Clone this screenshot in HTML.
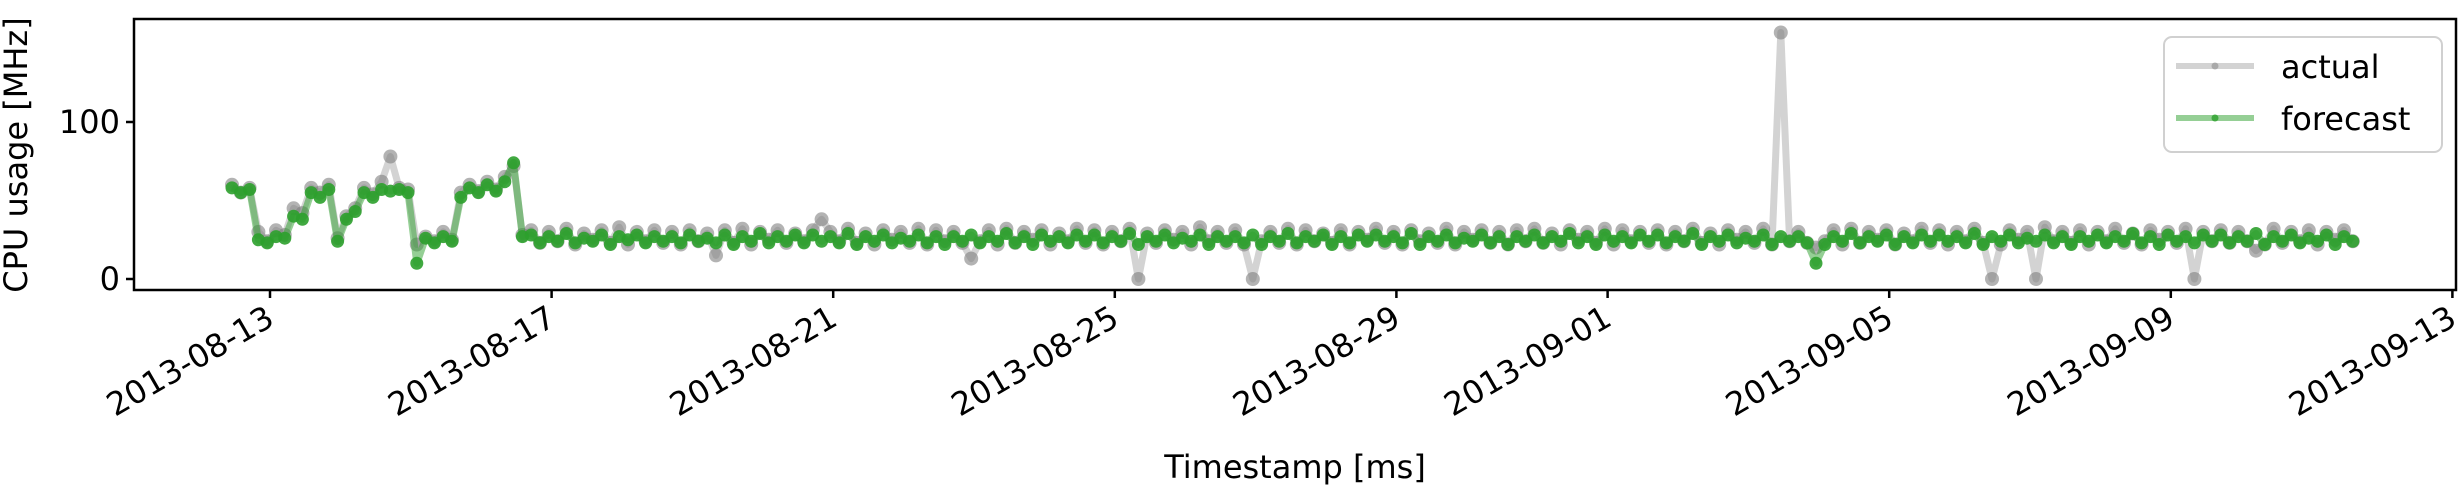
<!DOCTYPE html>
<html><head><meta charset="utf-8"><style>
html,body{margin:0;padding:0;background:#fff;}
svg{display:block;font-family:"DejaVu Sans","Liberation Sans",sans-serif;}
</style></head><body>
<svg id="chart" width="2458" height="490" viewBox="0 0 2458 490" xmlns="http://www.w3.org/2000/svg">
<rect width="2458" height="490" fill="#fff"/>
<g id="series"></g>
<g id="axes"></g>
<text x="0" y="0" font-size="32" text-anchor="middle" transform="translate(27,155) rotate(-90)">CPU usage [MHz]</text>
<text x="1295" y="478" font-size="32" text-anchor="middle">Timestamp [ms]</text>
<g>
<rect x="2164" y="37" width="278" height="115" rx="8" fill="#fff" fill-opacity="0.8" stroke="#d0d0d0" stroke-width="2"/>
<g>
<line x1="2176" y1="66" x2="2254" y2="66" stroke="#808080" stroke-opacity="0.35" stroke-width="6"/>
<circle cx="2215" cy="66" r="3.5" fill="#808080" fill-opacity="0.5"/>
<text x="2281" y="78" font-size="32">actual</text></g>
<g>
<line x1="2176" y1="118" x2="2254" y2="118" stroke="#2ca02c" stroke-opacity="0.5" stroke-width="6"/>
<circle cx="2215" cy="118" r="3.5" fill="#2ca02c" fill-opacity="0.8"/>
<text x="2281" y="130" font-size="32">forecast</text></g>
</g>
</svg>
<script>
// time: day-of-August (Sep d = 31+d), sample i at startDay + i*stepDay
const startDay = 12.46;
const stepDay = 0.125;
const actualValues = [60,55,58,30,24,31,28,45,42,58,55,60,26,40,45,58,54,62,78,58,57,22,27,24,30,25,55,60,56,62,57,65,72,28,
31,23,30,24,32,22,29,25,31,23,33,22,30,24,31,23,
30,22,31,24,29,15,31,23,32,22,30,25,31,23,29,24,
31,38,30,24,32,23,29,22,31,25,30,23,32,22,31,24,
30,23,13,24,31,22,32,23,30,25,31,22,29,24,32,23,
31,22,30,24,32,0,29,23,31,25,30,22,33,24,30,23,
31,22,0,24,30,23,32,22,31,24,29,23,31,22,30,25,
32,23,30,22,31,24,29,23,32,22,30,25,31,23,30,22,
31,24,32,23,29,22,31,25,30,23,32,22,31,24,30,23,
31,22,30,24,32,23,29,22,31,25,30,23,32,22,157,24,
30,23,20,24,31,22,32,23,30,25,31,22,29,24,32,23,
31,22,30,24,32,23,0,22,31,25,30,0,33,24,30,23,
31,22,30,24,32,23,29,22,31,25,30,23,32,0,30,24,
31,23,30,24,18,22,32,23,30,24,31,22,30,25,31,24];
const forecastValues = [58,55,57,25,23,27,26,40,38,55,52,57,24,38,43,55,52,57,56,57,55,10,26,23,27,24,52,58,55,60,56,62,74,27,
28,23,27,24,29,23,26,24,28,22,27,25,28,23,27,24,
27,23,28,24,26,23,28,22,27,24,29,23,27,24,28,23,
28,24,27,23,29,22,27,24,28,23,26,24,28,23,27,22,
27,24,28,23,27,24,29,23,27,22,28,24,27,23,28,24,
28,23,27,24,29,22,27,24,28,23,26,24,28,22,27,24,
27,23,28,22,27,24,29,23,27,24,28,22,27,23,28,24,
28,24,27,23,29,22,27,24,28,23,26,24,28,23,27,22,
27,24,28,23,27,24,29,23,27,22,28,24,27,23,28,24,
28,23,27,24,29,22,27,24,28,23,26,24,28,22,27,24,
27,23,10,22,27,24,29,23,27,24,28,22,27,23,28,24,
28,24,27,23,29,22,27,24,28,23,26,24,28,23,27,22,
27,24,28,23,27,24,29,23,27,22,28,24,27,23,28,24,
28,23,27,24,29,22,27,24,28,23,26,24,28,22,27,24];
const xTickDays = [13,17,21,25,29,32,36,40,44];
const xTickLabels = ["2013-08-13","2013-08-17","2013-08-21","2013-08-25","2013-08-29","2013-09-01","2013-09-05","2013-09-09","2013-09-13"];
const yTickValues = [0,100];

const NS="http://www.w3.org/2000/svg";
const L=134,R=2456,T=19,B=290;
function xs(d){return 270+(d-13)*70.4;}
function ys(v){return 279-v*1.57;}
function mk(tag,attrs,parent){const e=document.createElementNS(NS,tag);for(const k in attrs)e.setAttribute(k,attrs[k]);parent.appendChild(e);return e;}
const series=document.getElementById('series'), axes=document.getElementById('axes');

function drawSeries(vals,name,color,lineOp,dotOp,r){
  const g=mk('g',{},series);
  
  
  const pts=vals.map((v,i)=>xs(startDay+i*stepDay).toFixed(1)+','+ys(v).toFixed(1)).join(' ');
  const pl=mk('polyline',{points:pts,fill:'none',stroke:color,'stroke-opacity':lineOp,'stroke-width':7,'stroke-linejoin':'round'},g);
  
  
  vals.forEach((v,i)=>{
    const c=mk('circle',{cx:xs(startDay+i*stepDay).toFixed(1),cy:ys(v).toFixed(1),r:r,fill:color,'fill-opacity':dotOp},g);
    
    
  });
}
drawSeries(actualValues,'actual','#808080',0.35,0.6,7);
drawSeries(forecastValues,'forecast','#2ca02c',0.5,0.9,6.5);

const frame=mk('rect',{x:L,y:T,width:R-L,height:B-T,fill:'none',stroke:'#000','stroke-width':2.5},axes);


xTickDays.forEach((d,i)=>{
  const x=xs(d);
  const t=mk('line',{x1:x,y1:B,x2:x,y2:B+8,stroke:'#000','stroke-width':2.5},axes);
  
  
  const tx=mk('text',{x:0,y:0,'font-size':32,'text-anchor':'end',transform:`translate(${x+6},${B+34}) rotate(-30)`},axes);
  tx.textContent=xTickLabels[i];
  
  
});
yTickValues.forEach(v=>{
  const y=ys(v);
  const t=mk('line',{x1:L-8,y1:y,x2:L,y2:y,stroke:'#000','stroke-width':2.5},axes);
  
  
  const tx=mk('text',{x:L-14,y:y+11,'font-size':32,'text-anchor':'end'},axes);
  tx.textContent=String(v);
  
  
});
</script>
</body></html>
